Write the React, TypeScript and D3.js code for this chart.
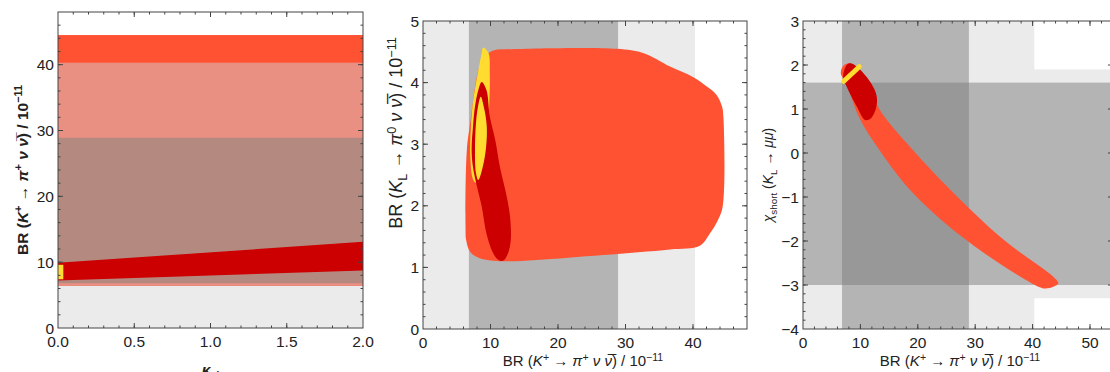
import React, { useEffect, useRef } from 'react';
import * as d3 from 'd3';

// ---- shared experimental bands (BR(K+ -> pi+ nu nubar) / 1e-11) ----
const brKpOneSigma = [6.8, 28.9];
const brKpTwoSigma = [0, 40.3];

// ---- left panel: BR(K+) vs kappa_eps' ----
const kappaTicks = [0, 0.5, 1, 1.5, 2];
const brKpTicks = [0, 10, 20, 30, 40];
const kpAllowed = [6.4, 44.5];
const kappaEnds = [0, 2];
const kpRedLow = [7.2, 8.75];
const kpRedHigh = [9.9, 13.1];
const kpYellowKappa = [0, 0.035];
const kpYellow = [7.4, 9.6];

// ---- middle panel: BR(KL -> pi0 nu nubar) vs BR(K+) ----
const brKpTicksMid = [0, 10, 20, 30, 40];
const brKlTicks = [0, 1, 2, 3, 4, 5];
const midOrange: [number, number][] = [
	[11.9, 4.54], [28.7, 4.55], [32.6, 4.48], [36.6, 4.26], [40.0, 4.09], [42.0, 3.94],
	[43.5, 3.8], [44.3, 3.61], [44.5, 3.45], [44.4, 1.99], [43.7, 1.77], [42.5, 1.55],
	[41.0, 1.35], [36.6, 1.29], [26.7, 1.2], [16.8, 1.12], [11.9, 1.1], [8.4, 1.15],
	[7.0, 1.25], [6.4, 1.44], [6.3, 1.66], [6.5, 2.91], [7.0, 3.34], [8.4, 4.26],
	[9.7, 4.48], [10.7, 4.53]
];
const midYellowOuter: [number, number][] = [
	[8.9, 4.57], [9.7, 4.48], [9.9, 4.15], [9.8, 3.61], [9.5, 3.07], [8.7, 2.58],
	[7.95, 2.37], [7.45, 2.42], [7.0, 2.8], [7.1, 3.28], [7.45, 3.72], [8.2, 4.2], [8.7, 4.48]
];
const midRed: [number, number][] = [
	[8.7, 4.01], [9.4, 3.88], [9.9, 3.45], [10.7, 3.07], [11.4, 2.63], [12.4, 2.15],
	[12.9, 1.82], [13.0, 1.44], [12.6, 1.23], [11.9, 1.11], [11.2, 1.12], [10.4, 1.23],
	[9.4, 1.55], [8.7, 1.99], [8.0, 2.31], [7.4, 2.63], [7.2, 2.91], [7.4, 3.28],
	[7.7, 3.61], [8.2, 3.88]
];
const midYellowInner: [number, number][] = [
	[8.55, 3.77], [9.1, 3.56], [9.45, 3.28], [9.35, 2.96], [8.85, 2.63], [8.2, 2.42],
	[7.85, 2.53], [7.7, 2.91], [7.85, 3.34], [8.15, 3.61]
];

// ---- right panel: chi_short(KL -> mu mu) vs BR(K+) ----
const brKpTicksRight = [0, 10, 20, 30, 40, 50];
const chiTicks = [-4, -3, -2, -1, 0, 1, 2, 3];
const chiOneSigma = [-3.0, 1.6];
const chiTwoSigma = [-3.3, 1.9];
const rightOrange: [number, number][] = [
	[6.74, 1.92], [7.3, 2.01], [8.2, 2.04], [9.6, 1.93], [11.7, 1.48], [13.4, 0.98],
	[18.1, 0.22], [23.9, -0.6], [29.7, -1.35], [35.5, -2.03], [41.3, -2.58], [43.6, -2.81],
	[44.5, -2.96], [43.6, -3.04], [42.2, -3.08], [40.7, -3.02], [35.5, -2.62], [29.7, -2.1],
	[23.9, -1.5], [18.1, -0.76], [13.4, 0.05], [9.9, 0.78], [7.6, 1.55], [6.6, 1.8]
];
const rightRed: [number, number][] = [
	[7.0, 1.73], [7.6, 2.0], [8.2, 2.04], [9.2, 1.98], [11.1, 1.73], [12.5, 1.43],
	[12.9, 1.2], [12.5, 0.93], [11.7, 0.77], [10.8, 0.75], [9.4, 1.05], [7.6, 1.51]
];
const rightYellow: [number, number][] = [[7.1, 1.63], [9.8, 1.96]];

const ORANGE = '#ff5233';
const RED = '#cc0000';
const YELLOW = '#ffdc2f';
const LIGHT = '#ebebeb';
const DARK = '#b4b4b4';
const DARKER = '#989898';
const FONT = '"Liberation Sans", Arial, sans-serif';

type Seg = { t: string; i?: boolean; sup?: boolean; sub?: boolean };

const kpLabel: Seg[] = [
	{ t: 'BR (' }, { t: 'K', i: true }, { t: '+', sup: true }, { t: ' → ' }, { t: 'π', i: true },
	{ t: '+', sup: true }, { t: ' ' }, { t: 'ν', i: true }, { t: ' ' }, { t: 'ν\u0305', i: true },
	{ t: ') / 10' }, { t: '−11', sup: true }
];
const klLabel: Seg[] = [
	{ t: 'BR (' }, { t: 'K', i: true }, { t: 'L', sub: true }, { t: ' → ' }, { t: 'π', i: true },
	{ t: '0', sup: true }, { t: ' ' }, { t: 'ν', i: true }, { t: ' ' }, { t: 'ν\u0305', i: true },
	{ t: ') / 10' }, { t: '−11', sup: true }
];
const chiLabel: Seg[] = [
	{ t: 'χ', i: true }, { t: 'short', sub: true }, { t: ' (' }, { t: 'K', i: true }, { t: 'L', sub: true },
	{ t: ' → ' }, { t: 'μμ', i: true }, { t: ')' }
];
const kappaLabel: Seg[] = [{ t: 'κ', i: true }, { t: 'ε\'', i: true, sub: true }];

function addRich(text: any, segs: Seg[], fs: number) {
	let shift = 0;
	segs.forEach(s => {
		const target = s.sup ? -0.36 * fs : s.sub ? 0.28 * fs : 0;
		const ts = text.append('tspan').attr('dy', target - shift).text(s.t);
		shift = target;
		if (s.sup || s.sub) ts.attr('font-size', fs * 0.7);
		if (s.i) ts.attr('font-style', 'italic');
	});
}

function drawFrame(g: any, x: any, y: any, xMajor: number[], xMinor: number[], yMajor: number[], yMinor: number[], xFmt: (v: number) => string) {
	const [x0, x1] = x.range();
	const [y0, y1] = y.range();
	const stroke = '#444';
	const inside = (s: any) => (v: number) => v > s.domain()[0] && v < s.domain()[1];
	const tick = (list: number[], len: number) => {
		list.filter(inside(x)).forEach(v => {
			const px = x(v);
			g.append('line').attr('x1', px).attr('x2', px).attr('y1', y0).attr('y2', y0 - len).attr('stroke', stroke);
			g.append('line').attr('x1', px).attr('x2', px).attr('y1', y1).attr('y2', y1 + len).attr('stroke', stroke);
		});
	};
	const ytick = (list: number[], len: number) => {
		list.filter(inside(y)).forEach(v => {
			const py = y(v);
			g.append('line').attr('y1', py).attr('y2', py).attr('x1', x0).attr('x2', x0 + len).attr('stroke', stroke);
			g.append('line').attr('y1', py).attr('y2', py).attr('x1', x1).attr('x2', x1 - len).attr('stroke', stroke);
		});
	};
	tick(xMajor, 5);
	tick(xMinor, 2.5);
	ytick(yMajor, 5);
	ytick(yMinor, 2.5);
	g.append('rect').attr('x', x0).attr('y', y1).attr('width', x1 - x0).attr('height', y0 - y1)
		.attr('fill', 'none').attr('stroke', stroke).attr('stroke-width', 1);

	xMajor.forEach(v => {
		g.append('text').attr('x', x(v)).attr('y', y0 + 18.5).attr('text-anchor', 'middle')
			.attr('font-size', 15.5).attr('fill', '#222').text(xFmt(v));
	});
	yMajor.forEach(v => {
		g.append('text').attr('x', x0 - 4).attr('y', y(v)).attr('dy', '0.36em').attr('text-anchor', 'end')
			.attr('font-size', 15.5).attr('fill', '#222').text(d3.format('d')(v));
	});
}

const App: React.FC = () => {
	const svgRef = useRef<SVGSVGElement>(null);

	useEffect(() => {
		if (svgRef.current == null) return;
		const svg = d3.select(svgRef.current);
		svg.selectAll('*').remove();
		svg.attr('font-family', FONT);
		const defs = svg.append('defs');
		const clip = (id: string, x: any, y: any) => {
			const [x0, x1] = x.range();
			const [y0, y1] = y.range();
			defs.append('clipPath').attr('id', id).append('rect')
				.attr('x', x0).attr('y', y1).attr('width', x1 - x0).attr('height', y0 - y1);
		};
		const area = (g: any, pts: [number, number][], x: any, y: any, fill: string) => {
			const line = d3.line<[number, number]>().x(d => x(d[0])).y(d => y(d[1])).curve(d3.curveCatmullRomClosed);
			g.append('path').attr('d', line(pts)).attr('fill', fill);
		};
		const band = (g: any, x: any, y: any, xr: number[], yr: number[], fill: string) => {
			g.append('rect')
				.attr('x', x(xr[0])).attr('width', x(xr[1]) - x(xr[0]))
				.attr('y', y(yr[1])).attr('height', y(yr[0]) - y(yr[1]))
				.attr('fill', fill);
		};

		// ---------- left ----------
		{
			const x = d3.scaleLinear().domain([0, 2]).range([58, 363]);
			const y = d3.scaleLinear().domain([0, 48]).range([328, 12]);
			clip('clipL', x, y);
			const g = svg.append('g');
			const p = g.append('g').attr('clip-path', 'url(#clipL)');
			const full = x.domain();
			band(p, x, y, full, brKpTwoSigma, LIGHT);
			band(p, x, y, full, kpAllowed, ORANGE);
			band(p, x, y, full, [Math.max(kpAllowed[0], brKpTwoSigma[0]), Math.min(kpAllowed[1], brKpTwoSigma[1])], '#ea9083');
			band(p, x, y, full, [Math.max(kpAllowed[0], brKpOneSigma[0]), Math.min(kpAllowed[1], brKpOneSigma[1])], '#b48a80');
			const red: [number, number][] = [
				[kappaEnds[0], kpRedLow[0]], [kappaEnds[1], kpRedLow[1]],
				[kappaEnds[1], kpRedHigh[1]], [kappaEnds[0], kpRedHigh[0]]
			];
			p.append('path').attr('d', d3.line<[number, number]>().x(d => x(d[0])).y(d => y(d[1]))(red) + 'Z').attr('fill', RED);
			band(p, x, y, kpYellowKappa, kpYellow, YELLOW);
			drawFrame(g, x, y, kappaTicks, d3.range(0, 2.01, 0.1), brKpTicks, d3.range(0, 48, 2), d3.format('.1f'));
			const yl = g.append('text').attr('transform', 'translate(28,170) rotate(-90)')
				.attr('text-anchor', 'middle').attr('font-size', 15.5).attr('font-weight', 'bold').attr('fill', '#222');
			addRich(yl, kpLabel, 15.5);
			const xl = g.append('text').attr('x', 210).attr('y', 375).attr('text-anchor', 'middle')
				.attr('font-size', 15.5).attr('font-weight', 'bold').attr('fill', '#222');
			addRich(xl, kappaLabel, 15.5);
		}

		// ---------- middle ----------
		{
			const x = d3.scaleLinear().domain([0, 48]).range([423, 747]);
			const y = d3.scaleLinear().domain([0, 5]).range([329, 21]);
			clip('clipM', x, y);
			const g = svg.append('g');
			const p = g.append('g').attr('clip-path', 'url(#clipM)');
			band(p, x, y, brKpTwoSigma, y.domain(), LIGHT);
			band(p, x, y, brKpOneSigma, y.domain(), DARK);
			area(p, midOrange, x, y, ORANGE);
			area(p, midYellowOuter, x, y, YELLOW);
			area(p, midRed, x, y, RED);
			area(p, midYellowInner, x, y, YELLOW);
			drawFrame(g, x, y, brKpTicksMid, d3.range(0, 48, 2), brKlTicks, d3.range(0, 5, 0.2), d3.format('d'));
			const yl = g.append('text').attr('transform', 'translate(402,133) rotate(-90)')
				.attr('text-anchor', 'middle').attr('font-size', 18).attr('fill', '#222');
			addRich(yl, klLabel, 18);
			const xl = g.append('text').attr('x', 583).attr('y', 366).attr('text-anchor', 'middle')
				.attr('font-size', 15).attr('fill', '#222');
			addRich(xl, kpLabel, 15);
		}

		// ---------- right ----------
		{
			const x = d3.scaleLinear().domain([0, 54]).range([803, 803 + 54 * 5.74]);
			const y = d3.scaleLinear().domain([-4, 3]).range([329, 21]);
			clip('clipR', x, y);
			const g = svg.append('g');
			const p = g.append('g').attr('clip-path', 'url(#clipR)');
			band(p, x, y, brKpTwoSigma, y.domain(), LIGHT);
			band(p, x, y, x.domain(), chiTwoSigma, LIGHT);
			band(p, x, y, brKpOneSigma, y.domain(), DARK);
			band(p, x, y, x.domain(), chiOneSigma, DARK);
			band(p, x, y, brKpOneSigma, chiOneSigma, DARKER);
			area(p, rightOrange, x, y, ORANGE);
			area(p, rightRed, x, y, RED);
			p.append('path')
				.attr('d', d3.line<[number, number]>().x(d => x(d[0])).y(d => y(d[1]))(rightYellow))
				.attr('stroke', YELLOW).attr('stroke-width', 5).attr('stroke-linecap', 'round').attr('fill', 'none');
			drawFrame(g, x, y, brKpTicksRight, d3.range(0, 54, 2), chiTicks, d3.range(-4, 3, 0.2), d3.format('d'));
			const yl = g.append('text').attr('transform', 'translate(773,175) rotate(-90)')
				.attr('text-anchor', 'middle').attr('font-size', 14).attr('fill', '#222');
			addRich(yl, chiLabel, 14);
			const xl = g.append('text').attr('x', 960).attr('y', 366).attr('text-anchor', 'middle')
				.attr('font-size', 15).attr('fill', '#222');
			addRich(xl, kpLabel, 15);
		}
	}, []);

	return (
		<svg ref={svgRef} width={1110} height={372}
			style={{ position: 'absolute', left: 0, top: 0, background: '#fff' }} />
	);
};

export default App;
